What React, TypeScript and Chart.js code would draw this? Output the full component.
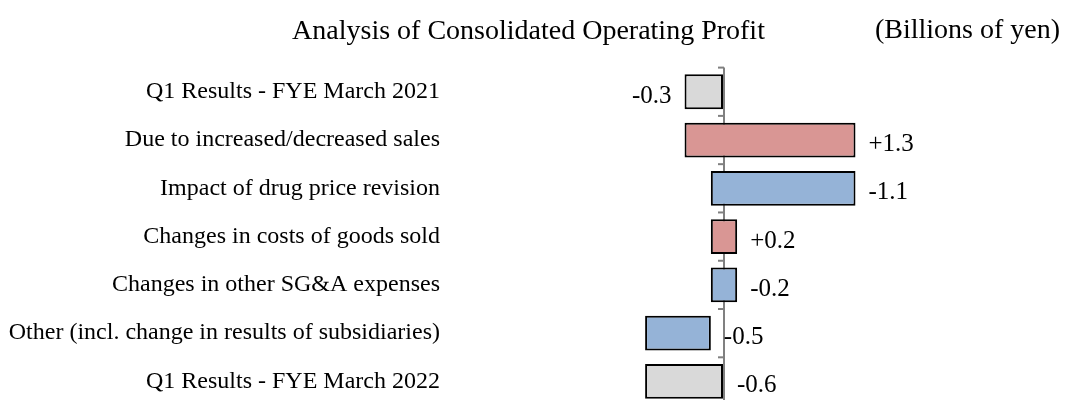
import React, { useEffect, useRef } from "react";
import { Chart, registerables } from "chart.js";

Chart.register(...registerables);

const categories = [
  "Q1 Results - FYE March 2021",
  "Due to increased/decreased sales",
  "Impact of drug price revision",
  "Changes in costs of goods sold",
  "Changes in other SG&A expenses",
  "Other (incl. change in results of subsidiaries)",
  "Q1 Results - FYE March 2022",
];
const changes = [-0.3, 1.3, -1.1, 0.2, -0.2, -0.5, -0.6];
const barKinds = ["total", "increase", "decrease", "increase", "decrease", "decrease", "total"];
const labelOnLeft = [true, false, false, false, false, false, false];
const titleText = "Analysis of Consolidated Operating Profit";
const unitText = "(Billions of yen)";

const kindColors: Record<string, string> = {
  total: "#D9D9D9",
  increase: "#D99694",
  decrease: "#95B3D7",
};

const FONT = "'Liberation Serif', 'Times New Roman', serif";

function buildRanges(): [number, number][] {
  const out: [number, number][] = [];
  let running = 0;
  changes.forEach((v, i) => {
    if (barKinds[i] === "total") {
      out.push([0, v]);
      running = v;
    } else {
      const next = Math.round((running + v) * 10) / 10;
      out.push([running, next]);
      running = next;
    }
  });
  return out;
}

export default function App() {
  const ref = useRef<HTMLCanvasElement | null>(null);

  useEffect(() => {
    if (!ref.current) return;
    const ranges = buildRanges();

    const overlay = {
      id: "overlay",
      afterDraw(chart: any) {
        const ctx = chart.ctx;
        const xs = chart.scales.x;
        const ys = chart.scales.y;
        const x0 = xs.getPixelForValue(0);
        const step = ys.getPixelForValue(1) - ys.getPixelForValue(0);
        ctx.save();
        ctx.strokeStyle = "#808080";
        ctx.lineWidth = 2;
        for (let i = 0; i <= categories.length; i++) {
          const y = ys.getPixelForValue(i) - step / 2;
          ctx.beginPath();
          ctx.moveTo(x0 - 6, y);
          ctx.lineTo(x0, y);
          ctx.stroke();
        }
        ctx.fillStyle = "#000";
        ctx.font = `25px ${FONT}`;
        ctx.textBaseline = "alphabetic";
        ranges.forEach((r, i) => {
          const v = changes[i];
          const txt = (v > 0 ? "+" : "") + v.toFixed(1);
          const y = ys.getPixelForValue(i) + 11;
          const lo = Math.min(r[0], r[1]);
          const hi = Math.max(r[0], r[1]);
          if (labelOnLeft[i]) {
            ctx.textAlign = "right";
            ctx.fillText(txt, xs.getPixelForValue(lo) - 13, y);
          } else {
            ctx.textAlign = "left";
            ctx.fillText(txt, xs.getPixelForValue(hi) + 13, y);
          }
        });
        ctx.font = `28px ${FONT}`;
        ctx.textAlign = "right";
        ctx.textBaseline = "middle";
        ctx.fillText(unitText, chart.width - 5, 31);
        ctx.restore();
      },
    };

    const chart = new Chart(ref.current, {
      type: "bar",
      data: {
        labels: categories,
        datasets: [
          {
            data: ranges as any,
            backgroundColor: barKinds.map((k) => kindColors[k]),
            borderColor: "#000000",
            borderWidth: 2,
            borderSkipped: false,
            barPercentage: 0.72,
            categoryPercentage: 1,
          },
        ],
      },
      options: {
        indexAxis: "y",
        animation: false,
        responsive: false,
        maintainAspectRatio: false,
        layout: { padding: { top: 0, right: 16, bottom: 14, left: 8 } },
        plugins: {
          legend: { display: false },
          tooltip: { enabled: false },
          title: {
            display: true,
            text: titleText,
            color: "#000",
            font: { family: FONT, size: 28, weight: "normal" as any, lineHeight: 1.2 },
            padding: { top: 15, bottom: 19 },
          },
        },
        scales: {
          x: {
            type: "linear",
            min: -2.0,
            max: 2.4715,
            z: 1,
            afterBuildTicks: (s: any) => {
              s.ticks = [{ value: 0 }];
            },
            ticks: { display: false },
            grid: {
              drawTicks: false,
              lineWidth: 2,
              color: (c: any) => (c.tick && c.tick.value === 0 ? "#808080" : "rgba(0,0,0,0)"),
            },
            border: { display: false },
          },
          y: {
            type: "category",
            ticks: {
              color: "#000",
              font: { family: FONT, size: 24 },
              padding: 21,
            },
            grid: { display: false, drawTicks: false },
            border: { display: false },
            afterFit: (s: any) => {
              s.width = 453;
            },
          },
        },
      },
      plugins: [overlay],
    });
    return () => chart.destroy();
  }, []);

  return (
    <div style={{ position: "fixed", left: 0, top: 0, width: 1065, height: 400, overflow: "hidden", background: "#fff" }}>
      <canvas ref={ref} width={1065} height={441} style={{ display: "block", width: 1065, height: 441 }} />
    </div>
  );
}
